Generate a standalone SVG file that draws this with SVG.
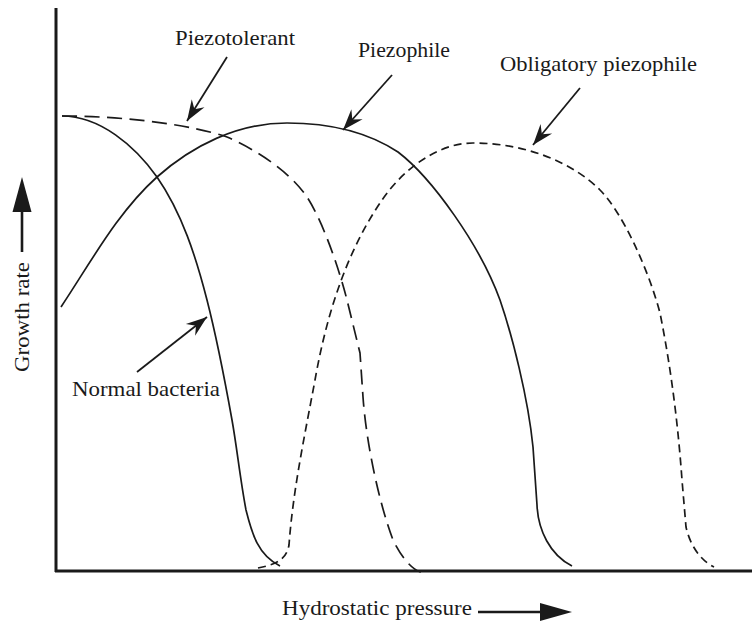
<svg xmlns="http://www.w3.org/2000/svg" width="752" height="622" viewBox="0 0 752 622">
<style>
.curve{fill:none;stroke:#1a1a1a;stroke-width:1.7;stroke-linecap:butt;stroke-linejoin:round}
.long{stroke-dasharray:15 7.5}
.short{stroke-dasharray:8 5}
.axis{fill:none;stroke:#1a1a1a;stroke-width:3}
.lead{fill:none;stroke:#1a1a1a;stroke-width:1.8}
.lbl{font-family:"Liberation Serif","Times New Roman",serif;font-size:21.5px;fill:#1a1a1a}
.head{fill:#1a1a1a}
</style>
<defs>
<marker id="barb" markerUnits="userSpaceOnUse" viewBox="-22 -10 24 20" refX="0" refY="0" markerWidth="24" markerHeight="20" orient="auto">
<path d="M0,0 L-21,-7.5 L-14,0 L-21,7.5 Z" fill="#1a1a1a"/>
</marker>
</defs>
<g id="axes">
<line class="axis" x1="56" y1="8" x2="56" y2="572"/>
<line class="axis" x1="55" y1="571" x2="752" y2="571"/>
</g>
<g id="curves">
<path id="normal-curve" class="curve" d="M62,116 C100,116 135,146 157,177 C182,213 196,257 207,300 C217,339 225,381 232,420 C237,448 240,478 246,510 C252,534 258,555 280,566"/>
<path id="piezotolerant-curve" class="curve long" d="M62,116 C130,116 195,126 227,137 C257,150 290,172 307,197 C322,220 338,265 347,300 L360,353 L363,397 C366,440 378,500 393,540 C401,556 411,570 423,573"/>
<path id="piezophile-curve" class="curve" d="M61,307 C91,262 117,213 157,177 C192,146 237,123 287,123 C327,123 366,131 398,152 C432,178 480,245 500,300 C512,335 528,397 533,447 L537,505 C538,530 550,555 572,566"/>
<path id="obligatory-curve" class="curve short" d="M258,568 C272,565 286,562 289,545 C293,490 305,434 315,380 C326,318 345,255 380,203 C400,172 436,143 473,143 C525,143 572,162 600,190 C622,212 648,268 660,313 C671,368 678,424 682,480 L686,527 C690,545 700,560 714,567"/>
</g>
<g id="connectors">
<line class="lead" x1="227" y1="57" x2="187" y2="121" marker-end="url(#barb)"/>
<line class="lead" x1="392" y1="75" x2="343" y2="130" marker-end="url(#barb)"/>
<line class="lead" x1="580" y1="88" x2="533" y2="145" marker-end="url(#barb)"/>
<line class="lead" x1="137" y1="372" x2="207" y2="317" marker-end="url(#barb)"/>
</g>
<g id="label-piezotolerant"><text class="lbl" x="175" y="45" textLength="120" lengthAdjust="spacingAndGlyphs">Piezotolerant</text></g>
<g id="label-piezophile"><text class="lbl" x="358" y="57" textLength="92" lengthAdjust="spacingAndGlyphs">Piezophile</text></g>
<g id="label-obligatory"><text class="lbl" x="500" y="71" textLength="197" lengthAdjust="spacingAndGlyphs">Obligatory piezophile</text></g>
<g id="label-normal"><text class="lbl" x="72" y="396" textLength="148" lengthAdjust="spacingAndGlyphs">Normal bacteria</text></g>
<g id="y-label">
<text class="lbl" transform="translate(29,372) rotate(-90)" x="0" y="0" textLength="110" lengthAdjust="spacingAndGlyphs">Growth rate</text>
<line x1="22" y1="252" x2="22" y2="208" stroke="#1a1a1a" stroke-width="2.6"/>
<path class="head" d="M22,177 L31.5,212 L12.5,212 Z"/>
</g>
<g id="x-label">
<text class="lbl" x="282" y="615" textLength="190" lengthAdjust="spacingAndGlyphs">Hydrostatic pressure</text>
<line x1="478" y1="612" x2="544" y2="612" stroke="#1a1a1a" stroke-width="2.6"/>
<path class="head" d="M572,612 L540,603 L540,621 Z"/>
</g>
</svg>
